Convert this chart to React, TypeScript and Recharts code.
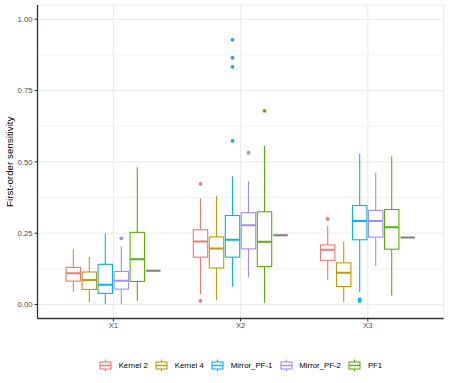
import { ComposedChart, Bar, XAxis, YAxis, CartesianGrid } from 'recharts';

const categories = ['X1', 'X2', 'X3'];
const seriesNames = ['Kernel 2', 'Kernel 4', 'Mirror_PF-1', 'Mirror_PF-2', 'PF1'];
const seriesColors = ['#F8766D', '#C49A00', '#00B6EB', '#A58AFF', '#53B400'];

// per category: [lower whisker, q1, median, q3, upper whisker]
const kernel2Stats = [[0.044, 0.082, 0.11, 0.13, 0.194], [0.036, 0.166, 0.221, 0.262, 0.372], [0.086, 0.155, 0.192, 0.209, 0.275]];
const kernel4Stats = [[0.009, 0.053, 0.086, 0.114, 0.167], [0.015, 0.128, 0.196, 0.237, 0.38], [0.009, 0.063, 0.111, 0.146, 0.221]];
const mirror1Stats = [[0.001, 0.039, 0.069, 0.141, 0.248], [0.062, 0.166, 0.227, 0.312, 0.45], [0.044, 0.227, 0.293, 0.347, 0.528]];
const mirror2Stats = [[0.001, 0.054, 0.083, 0.116, 0.204], [0.096, 0.195, 0.278, 0.322, 0.432], [0.135, 0.236, 0.293, 0.33, 0.463]];
const pf1Stats = [[0.013, 0.081, 0.159, 0.253, 0.481], [0.006, 0.133, 0.22, 0.325, 0.557], [0.032, 0.194, 0.271, 0.333, 0.519]];

const kernel2Outliers = [[], [0.423, 0.013], [0.3]];
const kernel4Outliers = [[], [], []];
const mirror1Outliers = [[], [0.928, 0.865, 0.833, 0.574], [0.018, 0.012]];
const mirror2Outliers = [[0.232], [0.532], []];
const pf1Outliers = [[], [0.679], []];

const trueValues = [0.118, 0.243, 0.235];

const yTicks = [0, 0.25, 0.5, 0.75, 1];
const yMinor = [0.125, 0.375, 0.625, 0.875];

const allStats = [kernel2Stats, kernel4Stats, mirror1Stats, mirror2Stats, pf1Stats];
const allOutliers = [kernel2Outliers, kernel4Outliers, mirror1Outliers, mirror2Outliers, pf1Outliers];

const data = categories.map((name, i) => {
  const row: any = { name, truth: trueValues[i] };
  seriesNames.forEach((s, j) => {
    row[s] = { stats: allStats[j][i], outliers: allOutliers[j][i] };
  });
  return row;
});

const FONT = '"Liberation Sans", Arial, Helvetica, sans-serif';
const domain: [number, number] = [-0.049, 1.05];
const xPad = { left: 12.3, right: 12.3 };

const rangeOf = (row: any, s: string) => {
  const { stats, outliers } = row[s];
  return [Math.min(stats[0], ...outliers), Math.max(stats[4], ...outliers)];
};

function BoxShape(props: any) {
  const { x, y, width, height, payload, series, color } = props;
  const { stats, outliers } = payload[series];
  const [lo, hi] = rangeOf(payload, series);
  const k = hi - lo > 0 ? height / (hi - lo) : 0;
  const py = (v: number) => y + (hi - v) * k;
  const bw = width * 0.9;
  const bx = x + (width - bw) / 2;
  const cx = x + width / 2;
  return (
    <g>
      <line x1={cx} x2={cx} y1={py(stats[4])} y2={py(stats[3])} stroke={color} strokeWidth={1.1} />
      <line x1={cx} x2={cx} y1={py(stats[1])} y2={py(stats[0])} stroke={color} strokeWidth={1.1} />
      <rect x={bx} y={py(stats[3])} width={bw} height={py(stats[1]) - py(stats[3])} fill="#fff" stroke={color} strokeWidth={1.1} />
      <line x1={bx} x2={bx + bw} y1={py(stats[2])} y2={py(stats[2])} stroke={color} strokeWidth={2} />
      {outliers.map((v: number, i: number) => (
        <circle key={i} cx={cx} cy={py(v)} r={1.9} fill={color} />
      ))}
    </g>
  );
}

function TruthShape(props: any) {
  const { x, y, width } = props;
  const bw = width * 0.9;
  const bx = x + (width - bw) / 2;
  return <line x1={bx} x2={bx + bw} y1={y} y2={y} stroke="#7F7F7F" strokeWidth={2} />;
}

function LegendKey({ color }: { color: string }) {
  return (
    <svg width={13} height={13} style={{ display: 'block' }}>
      <line x1={6.5} x2={6.5} y1={0.5} y2={12.5} stroke={color} strokeWidth={1.1} />
      <rect x={1} y={3} width={11} height={7} fill="#fff" stroke={color} strokeWidth={1.1} />
      <line x1={1} x2={12} y1={6.5} y2={6.5} stroke={color} strokeWidth={1.4} />
    </svg>
  );
}

export default function App() {
  const tickStyle = { fontSize: 7.7, fill: '#4D4D4D', fontFamily: FONT };
  return (
    <div style={{ position: 'absolute', left: 0, top: 0, width: 449, height: 383, background: '#fff', fontFamily: FONT }}>
      <ComposedChart
        width={449}
        height={383}
        data={data}
        margin={{ top: 5, right: 5.3, bottom: 44.5, left: 0 }}
        barCategoryGap={15.5}
        barGap={0}
      >
        <CartesianGrid vertical={false} horizontalValues={yMinor} stroke="#EBEBEB" strokeWidth={0.6} />
        <CartesianGrid stroke="#EBEBEB" strokeWidth={1.1} />
        <XAxis
          dataKey="name"
          padding={xPad}
          height={20}
          tickSize={3}
          tickMargin={1.5}
          tick={tickStyle}
          tickLine={{ stroke: '#333333' }}
          axisLine={{ stroke: '#333333', strokeWidth: 1.3 }}
        />
        <XAxis
          xAxisId="top"
          orientation="top"
          dataKey="name"
          padding={xPad}
          height={0}
          tick={false}
          tickLine={false}
          axisLine={{ stroke: '#333333', strokeWidth: 1.3 }}
        />
        <YAxis
          type="number"
          domain={domain}
          allowDataOverflow
          ticks={yTicks}
          width={37.5}
          tickSize={3}
          tickMargin={2}
          tick={tickStyle}
          tickFormatter={(v: number) => v.toFixed(2)}
          tickLine={{ stroke: '#333333' }}
          axisLine={{ stroke: '#333333', strokeWidth: 1.3 }}
          label={{
            content: () => (
              <text
                x={10}
                y={161.7}
                transform="rotate(-90 10 161.7)"
                textAnchor="middle"
                dominantBaseline="central"
                fontSize={9.8}
                fill="#000"
                fontFamily={FONT}
              >
                First-order sensitivity
              </text>
            ),
          }}
        />
        <YAxis
          yAxisId="right"
          orientation="right"
          type="number"
          domain={domain}
          allowDataOverflow
          width={0}
          tick={false}
          tickLine={false}
          axisLine={{ stroke: '#333333', strokeWidth: 1.3 }}
        />
        {seriesNames.map((s, j) => (
          <Bar
            key={s}
            name={s}
            dataKey={(row: any) => rangeOf(row, s)}
            isAnimationActive={false}
            shape={(p: any) => <BoxShape {...p} series={s} color={seriesColors[j]} />}
          />
        ))}
        <Bar
          name="truth"
          dataKey={(row: any) => [row.truth, row.truth]}
          isAnimationActive={false}
          shape={(p: any) => <TruthShape {...p} />}
        />
      </ComposedChart>
      <div
        style={{
          position: 'absolute',
          left: 37.5,
          width: 406.2,
          top: 358.5,
          display: 'flex',
          justifyContent: 'center',
          alignItems: 'center',
          fontSize: 7.8,
          color: '#000',
        }}
      >
        {seriesNames.map((s, j) => (
          <div key={s} style={{ display: 'flex', alignItems: 'center', marginRight: j < seriesNames.length - 1 ? 7.3 : 0 }}>
            <LegendKey color={seriesColors[j]} />
            <span style={{ marginLeft: 6.7, lineHeight: '13px', whiteSpace: 'nowrap' }}>{s}</span>
          </div>
        ))}
      </div>
    </div>
  );
}
